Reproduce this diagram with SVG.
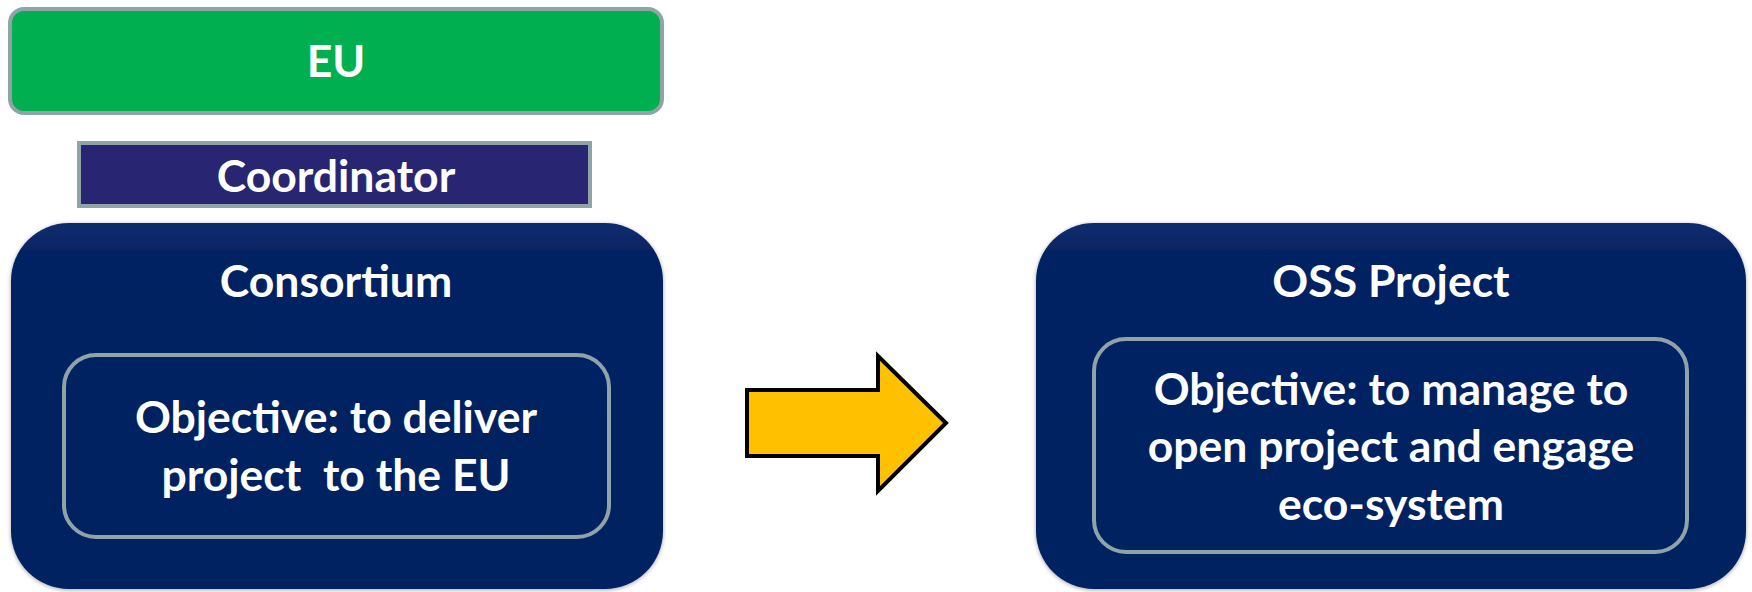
<svg xmlns="http://www.w3.org/2000/svg" width="1752" height="592" viewBox="0 0 1752 592">
  <style>
    .t { font-family: Lato, "Open Sans", "Liberation Sans", sans-serif; font-weight: bold; fill: #ffffff; text-anchor: middle; font-size: 44.5px; }
    .big { fill: url(#navy); filter: url(#sh); }
    .inner { fill: none; stroke: #8FA3A8; stroke-width: 4; }
  </style>
  <defs>
    <linearGradient id="navy" x1="0" y1="0" x2="0" y2="1">
      <stop offset="0" stop-color="#0C2C6E"/>
      <stop offset="0.08" stop-color="#062462"/>
      <stop offset="1" stop-color="#052360"/>
    </linearGradient>
    <filter id="sh" x="-5%" y="-5%" width="110%" height="110%">
      <feGaussianBlur in="SourceAlpha" stdDeviation="2"/>
      <feOffset dx="0" dy="1" result="b"/>
      <feFlood flood-color="#000" flood-opacity="0.35"/>
      <feComposite in2="b" operator="in"/>
      <feMerge><feMergeNode/><feMergeNode in="SourceGraphic"/></feMerge>
    </filter>
  </defs>
  <rect width="1752" height="592" fill="#ffffff"/>

  <g id="eu">
    <rect x="10" y="9" width="652" height="104" rx="14" fill="#00B050" stroke="#8FA3A8" stroke-width="4"/>
    <text class="t" x="336" y="77">EU</text>
  </g>

  <g id="coordinator">
    <rect x="79" y="143" width="511" height="63" fill="#282672" stroke="#8FA3A8" stroke-width="4"/>
    <text class="t" x="336" y="192">Coordinator</text>
  </g>

  <g id="consortium">
    <rect class="big" x="11" y="223" width="652" height="366" rx="58"/>
    <text class="t" x="336" y="297">Consortium</text>
    <rect class="inner" x="64" y="355" width="545" height="182" rx="32"/>
    <text class="t" x="336" y="433">Objective: to deliver</text>
    <text class="t" x="336" y="491" xml:space="preserve">project  to the EU</text>
  </g>

  <g id="oss">
    <rect class="big" x="1036" y="223" width="710" height="366" rx="58"/>
    <text class="t" x="1391" y="297">OSS Project</text>
    <rect class="inner" x="1094" y="339" width="593" height="213" rx="32"/>
    <text class="t" x="1391" y="405">Objective: to manage to</text>
    <text class="t" x="1391" y="462">open project and engage</text>
    <text class="t" x="1391" y="520">eco-system</text>
  </g>

  <g id="connectors">
    <polygon points="747,390 878,390 878,356 946,423 878,491 878,456 747,456" fill="#FFC000" stroke="#000000" stroke-width="4" stroke-linejoin="miter"/>
  </g>
</svg>
